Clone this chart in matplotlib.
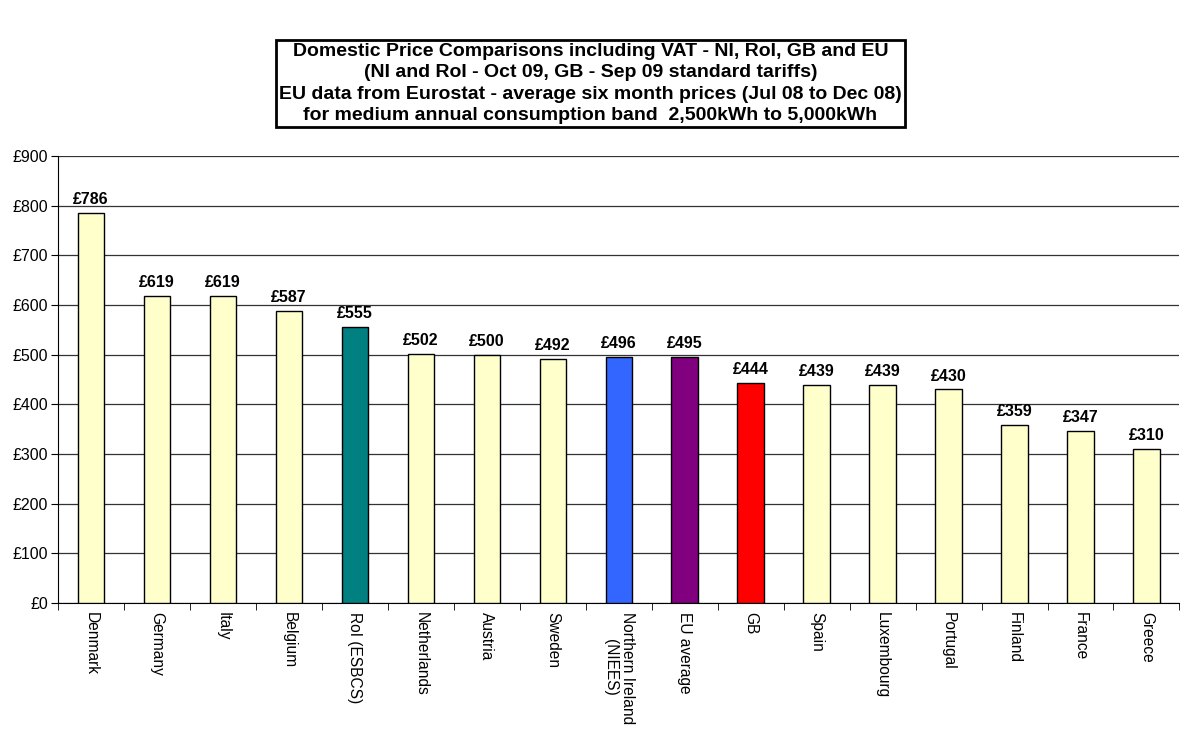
import numpy as np
import matplotlib.pyplot as plt

plt.rcParams['font.family'] = ['Liberation Sans', 'DejaVu Sans']

# Domestic prices per country / region
countries = ['Denmark', 'Germany', 'Italy', 'Belgium', 'RoI (ESBCS)', 'Netherlands',
             'Austria', 'Sweden', 'Northern Ireland\n(NIEES)', 'EU average', 'GB',
             'Spain', 'Luxembourg', 'Portugal', 'Finland', 'France', 'Greece']
prices = [786, 619, 619, 587, 555, 502, 500, 492, 496, 495, 444, 439, 439, 430, 359, 347, 310]
bar_colors = ['#FFFFCC'] * 4 + ['#008080'] + ['#FFFFCC'] * 3 + ['#3366FF', '#800080', '#FF0000'] \
    + ['#FFFFCC'] * 6

fig = plt.figure(figsize=(11.83, 7.32), dpi=100)
ax = fig.add_axes([0.049, 0.176, 0.948, 0.611])

x = np.arange(len(countries))
ax.bar(x, prices, width=0.4, color=bar_colors, edgecolor='black', linewidth=1, zorder=3)

for xi, p in zip(x, prices):
    ax.text(xi, p + 12, '£%d' % p, ha='center', va='bottom', fontsize=11.5, fontweight='bold')

ax.set_xlim(-0.5, len(countries) - 0.5)
ax.set_ylim(0, 900)
ax.set_yticks(range(0, 901, 100))
ax.set_yticklabels(['£%d' % v for v in range(0, 901, 100)], fontsize=11.5)
ax.yaxis.grid(True, color='#333333', linewidth=0.9, zorder=0)

# category names under the bars, boundary ticks between them
ax.set_xticks(x)
ax.set_xticklabels(countries, rotation=-90, fontsize=11.2, va='top', ha='center', linespacing=1.15)
ax.tick_params(axis='x', which='major', length=0, pad=6)
ax.set_xticks(np.arange(-0.5, len(countries)), minor=True)
ax.tick_params(axis='x', which='minor', length=5, direction='out')
ax.tick_params(axis='y', length=5, direction='out', pad=2)

for s in ['top', 'right']:
    ax.spines[s].set_visible(False)

title = ('Domestic Price Comparisons including VAT - NI, RoI, GB and EU\n'
         '(NI and RoI - Oct 09, GB - Sep 09 standard tariffs)\n'
         'EU data from Eurostat - average six month prices (Jul 08 to Dec 08)\n'
         'for medium annual consumption band  2,500kWh to 5,000kWh')
fig.text(0.4992, 0.886, title, ha='center', va='center', fontsize=14, fontweight='bold',
         linespacing=1.33,
         bbox=dict(boxstyle='square,pad=0.15', facecolor='white', edgecolor='black', linewidth=2))

fig.savefig('out.png', dpi=100)
